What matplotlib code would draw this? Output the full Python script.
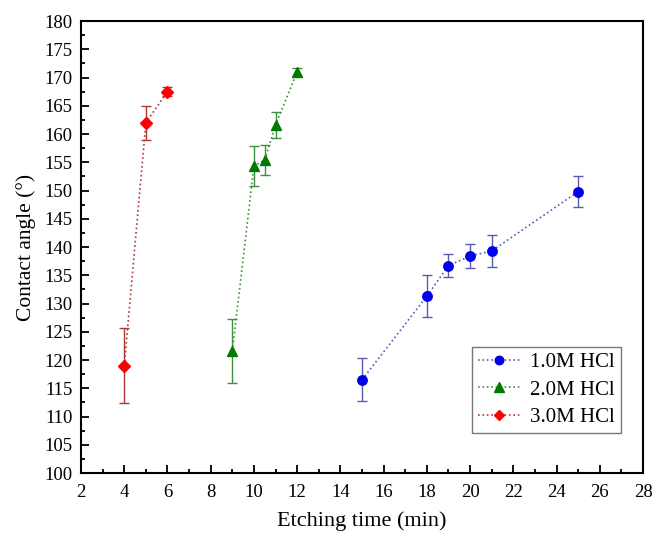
import matplotlib
matplotlib.use("Agg")
import matplotlib.pyplot as plt
from matplotlib.ticker import MultipleLocator

plt.rcParams['font.family'] = ['Liberation Serif', 'DejaVu Serif']
plt.rcParams['mathtext.fontset'] = 'stix'

# Data
t1 = [15, 18, 19, 20, 21, 25]
ca1 = [116.5, 131.3, 136.7, 138.4, 139.3, 149.8]
err1 = [3.8, 3.7, 2.0, 2.2, 2.9, 2.7]

t2 = [9, 10, 10.5, 11, 12]
ca2 = [121.6, 154.3, 155.4, 161.6, 171.0]
err2 = [5.7, 3.5, 2.7, 2.3, 0.7]

t3 = [4, 5, 6]
ca3 = [119.0, 162.0, 167.5]
err3 = [6.6, 3.0, 0.8]

labels = ['1.0M HCl', '2.0M HCl', '3.0M HCl']

fig = plt.figure(figsize=(6.54, 5.43), dpi=100)
ax = fig.add_axes([0.1239, 0.1289, 0.8593, 0.8324])

series = [
    (t1, ca1, err1, labels[0], 'o', '#0000ee', '#5a5ab0', 6.8),
    (t2, ca2, err2, labels[1], '^', '#007a00', '#3f8f3f', 7.5),
    (t3, ca3, err3, labels[2], 'D', '#ff0000', '#b03535', 5.8),
]
for x, y, e, lab, m, c, ec, ms in series:
    ax.errorbar(x, y, yerr=e, fmt='none', ecolor=ec, elinewidth=1.0,
                capsize=3.3, capthick=1.0, zorder=2)
    ax.plot(x, y, linestyle=':', color=ec, linewidth=1.2, marker=m,
            markersize=ms, markerfacecolor=c, markeredgecolor=c, label=lab, zorder=3)

ax.set_xlim(2, 28)
ax.set_ylim(100, 180)
ax.xaxis.set_major_locator(MultipleLocator(2))
ax.xaxis.set_minor_locator(MultipleLocator(1))
ax.yaxis.set_major_locator(MultipleLocator(5))
ax.yaxis.set_minor_locator(MultipleLocator(2.5))
ax.tick_params(which='both', direction='in', top=False, right=False, labelsize=13.5, width=1.3)
ax.tick_params(axis='x', which='both', pad=8)
ax.tick_params(axis='y', which='both', pad=6)
ax.tick_params(which='major', length=6)
ax.tick_params(which='minor', length=3)
for s in ax.spines.values():
    s.set_linewidth(1.5)

ax.set_xlabel('Etching time (min)', fontsize=16, labelpad=7)
ax.set_ylabel('Contact angle (°)', fontsize=15.5, labelpad=6)

leg = ax.legend(loc='lower right', bbox_to_anchor=(0.961, 0.088), borderaxespad=0,
                fontsize=15, markerscale=0.9,
                frameon=True, fancybox=False, edgecolor='#555555',
                handlelength=2.05, handletextpad=0.45, borderpad=0.3, labelspacing=0.37)
leg.get_frame().set_linewidth(1.0)

fig.savefig('out.png', dpi=100)
